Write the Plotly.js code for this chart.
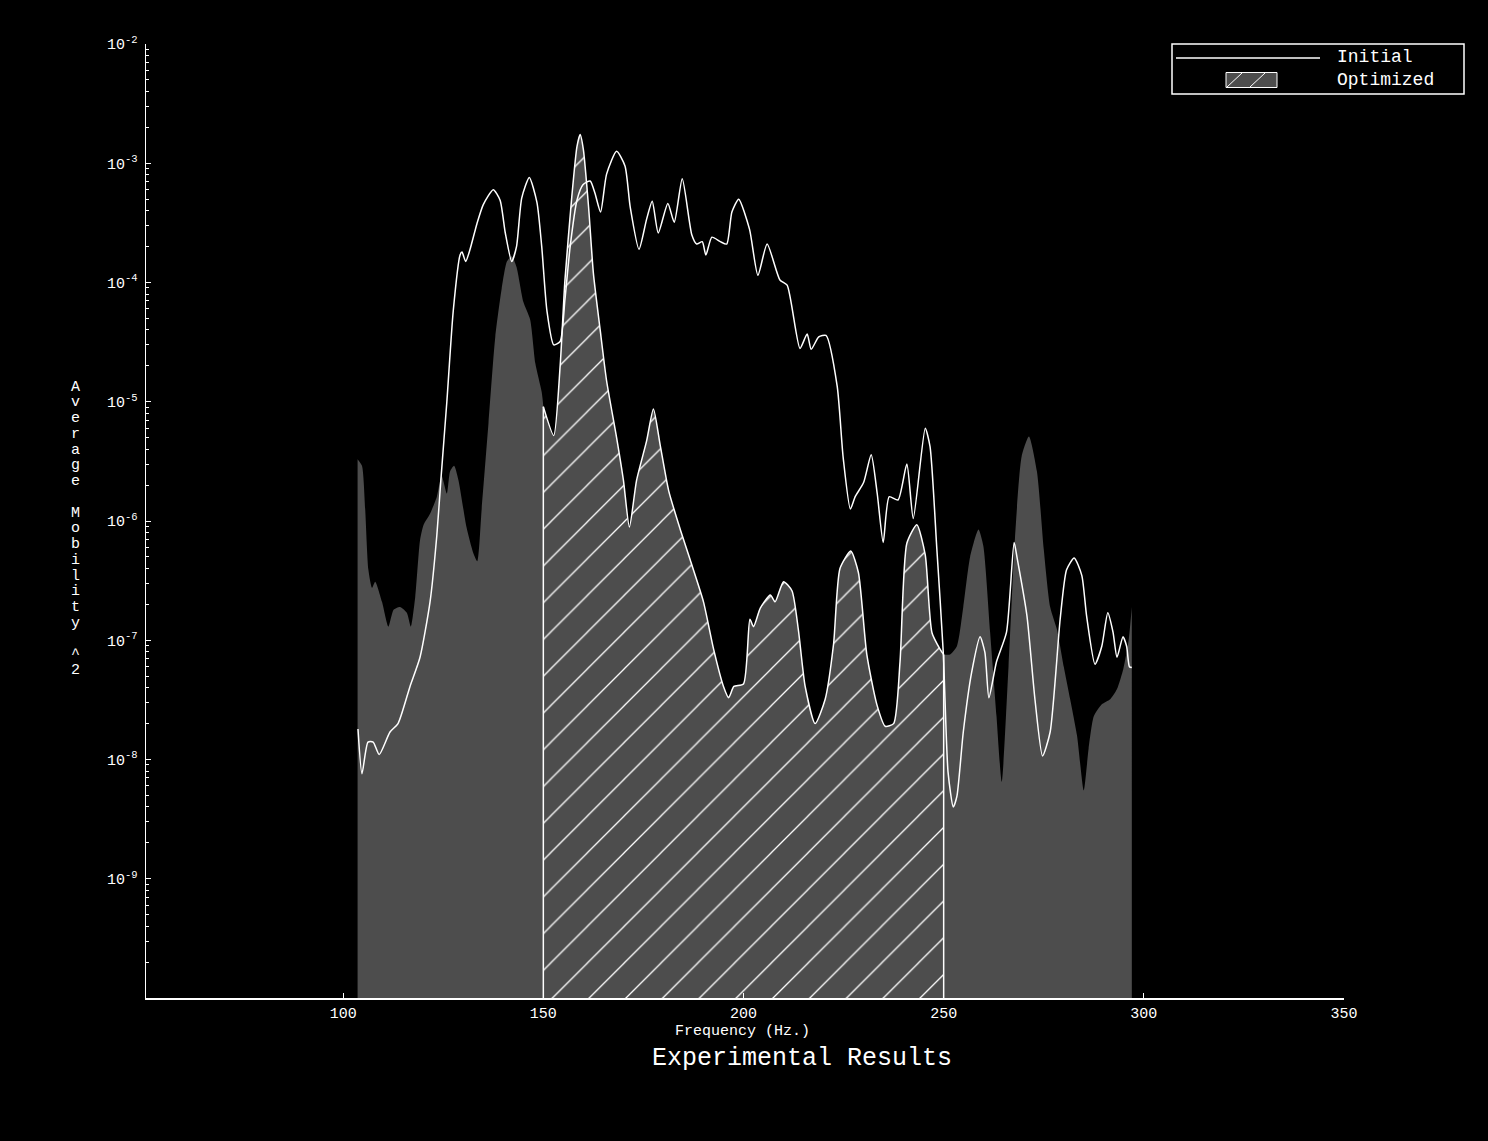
<!DOCTYPE html>
<html><head><meta charset="utf-8">
<script src="https://cdn.plot.ly/plotly-3.0.1.min.js"></script>
<style>html,body{margin:0;padding:0;background:#000;}#chart{width:1488px;height:1141px;}</style>
</head><body><div id="chart"></div>
<script>
// ---- data ----
const initialFreq = [103.7,104.7,106.2,107.5,109.0,111.7,113.7,116.7,119.2,121.7,123.4,124.4,125.9,127.5,129.2,129.7,130.6,131.7,133.4,135.0,137.5,139.2,140.5,142.1,143.3,144.6,146.5,148.4,149.6,150.9,152.6,154.2,155.4,156.7,158.4,159.9,161.7,162.9,164.3,165.8,168.3,170.4,171.7,173.9,175.8,177.2,178.7,181.1,182.7,184.7,187.1,188.3,189.7,190.6,192.1,194.2,195.8,197.1,198.8,201.5,203.6,205.9,209.1,210.9,214.1,215.9,216.9,218.8,220.6,223.4,224.9,226.7,227.9,230.0,231.9,233.4,234.9,236.4,238.6,240.8,242.4,245.4,246.6,248.3,249.9,251.1,252.4,253.3,254.9,257.0,259.1,260.3,261.3,263.2,265.7,267.6,268.3,270.8,272.8,274.7,276.6,279.1,280.7,282.6,284.5,285.7,287.8,289.5,291.0,292.3,293.3,294.8,295.7,296.4,297.0];
const initialMobility = [1.8e-8,7.6e-9,1.4e-8,1.4e-8,1.1e-8,1.7e-8,2.0e-8,4.1e-8,7.2e-8,2.1e-7,7.6e-7,2.2e-6,1.0e-5,5.8e-5,1.7e-4,1.8e-4,1.5e-4,1.9e-4,3.1e-4,4.5e-4,6.0e-4,4.9e-4,2.6e-4,1.5e-4,2.0e-4,5.1e-4,7.6e-4,4.7e-4,2.0e-4,5.8e-5,3.0e-5,3.2e-5,7.2e-5,2.0e-4,4.9e-4,6.6e-4,7.1e-4,5.6e-4,3.9e-4,8.1e-4,1.26e-3,9.5e-4,4.3e-4,1.9e-4,3.4e-4,4.8e-4,2.6e-4,4.6e-4,3.2e-4,7.4e-4,2.5e-4,2.1e-4,2.2e-4,1.7e-4,2.4e-4,2.2e-4,2.1e-4,3.9e-4,5.0e-4,2.8e-4,1.15e-4,2.1e-4,1.05e-4,9.5e-5,2.8e-5,3.7e-5,2.75e-5,3.5e-5,3.6e-5,1.35e-5,3.4e-6,1.26e-6,1.6e-6,2.1e-6,3.6e-6,1.7e-6,6.6e-7,1.6e-6,1.5e-6,3.0e-6,1.05e-6,6.0e-6,4.2e-6,5.8e-7,7.9e-8,7.8e-9,4.0e-9,4.9e-9,1.7e-8,5.4e-8,1.07e-7,7.9e-8,3.3e-8,6.6e-8,1.17e-7,6.6e-7,5.0e-7,1.6e-7,3.2e-8,1.07e-8,1.7e-8,1.5e-7,3.9e-7,4.9e-7,3.5e-7,1.6e-7,6.3e-8,8.9e-8,1.7e-7,1.17e-7,7.2e-8,1.07e-7,8.9e-8,6.0e-8,5.9e-8];

const optimizedFreq = [103.6,104.7,105.5,106.3,107.2,108.0,109.7,111.3,112.6,114.2,115.9,116.9,118.0,119.2,120.1,121.7,123.4,124.6,125.9,126.7,127.7,128.8,130.8,132.5,133.5,134.6,136.3,138.0,139.6,140.9,142.1,143.3,145.0,146.7,148.0,149.6,150.0,152.6,154.2,155.4,157.1,158.4,159.2,160.0,161.3,162.5,164.2,165.8,168.3,170.0,171.5,173.3,175.8,177.5,179.2,181.3,184.2,186.7,190.0,192.5,195.0,196.3,197.6,200.0,201.6,202.5,204.2,206.7,207.9,210.0,212.1,213.7,215.4,217.9,220.4,222.5,224.1,226.8,228.7,230.8,233.3,235.4,237.5,239.1,240.8,243.3,245.4,247.1,249.6,250.0,251.6,253.3,254.9,256.6,258.7,259.9,261.6,263.2,264.5,266.2,267.8,269.5,271.3,273.3,275.0,276.6,278.3,280.0,281.6,283.3,285.0,286.2,287.5,289.5,291.6,293.3,294.9,296.2,297.0];
const optimizedMobility = [3.3e-6,2.9e-6,1.26e-6,3.9e-7,2.75e-7,3.1e-7,2.1e-7,1.3e-7,1.8e-7,1.9e-7,1.7e-7,1.3e-7,2.3e-7,6.9e-7,9.3e-7,1.15e-6,1.6e-6,2.4e-6,1.7e-6,2.6e-6,2.9e-6,2.2e-6,8.9e-7,5.4e-7,4.6e-7,1.26e-6,6.6e-6,3.5e-5,8.9e-5,1.5e-4,1.66e-4,1.35e-4,6.9e-5,4.9e-5,2.1e-5,1.2e-5,9.1e-6,5.2e-6,2.0e-5,1.05e-4,5.2e-4,1.38e-3,1.74e-3,1.3e-3,4.3e-4,1.2e-4,4.0e-5,1.5e-5,5.0e-6,2.2e-6,8.9e-7,2.2e-6,4.7e-6,8.7e-6,4.3e-6,1.8e-6,8.5e-7,4.7e-7,2.1e-7,8.5e-8,4.1e-8,3.3e-8,4.1e-8,4.3e-8,1.5e-7,1.3e-7,1.86e-7,2.4e-7,2.1e-7,3.1e-7,2.6e-7,1.23e-7,4.1e-8,2.0e-8,3.2e-8,9.3e-8,4.0e-7,5.6e-7,3.7e-7,7.6e-8,2.9e-8,1.9e-8,2.0e-8,6.6e-8,6.5e-7,9.3e-7,5.2e-7,1.15e-7,7.9e-8,7.6e-8,7.6e-8,8.9e-8,1.9e-7,5.0e-7,8.5e-7,6.2e-7,1.17e-7,2.3e-8,6.5e-9,6.0e-8,7.1e-7,3.5e-6,5.1e-6,2.6e-6,5.8e-7,1.9e-7,1.23e-7,6.0e-8,3.2e-8,1.6e-8,5.5e-9,1.23e-8,2.3e-8,2.9e-8,3.2e-8,3.9e-8,5.8e-8,1.0e-7,1.9e-7];

const hatchStart = 150;
const hatchEnd = 250;
const floorValue = 1e-10;

const xTickValues = [100, 150, 200, 250, 300, 350];
const yTickValues = [1e-9, 1e-8, 1e-7, 1e-6, 1e-5, 1e-4, 1e-3, 1e-2];
const yTickLabels = ['10<sup>-9</sup>','10<sup>-8</sup>','10<sup>-7</sup>','10<sup>-6</sup>','10<sup>-5</sup>','10<sup>-4</sup>','10<sup>-3</sup>','10<sup>-2</sup>'];

const legendNames = ['Initial', 'Optimized'];
const xTitle = 'Frequency (Hz.)';
const yTitle = 'Average Mobility ^2';
const chartTitle = 'Experimental Results';

// ---- build ----
const GRAY = '#4d4d4d';
const FONT = 'Liberation Mono, Courier New, monospace';
const SMOOTH = 0.6;

function segment(lo, hi) {
  const xs = [], ys = [];
  optimizedFreq.forEach((f, i) => { if (f >= lo && f <= hi) { xs.push(f); ys.push(optimizedMobility[i]); } });
  return { x: xs, y: ys };
}

function filledSegment(seg, hatched) {
  const out = [];
  // baseline along the bottom of the plot
  out.push({ x: [seg.x[0], seg.x[seg.x.length - 1]], y: [floorValue, floorValue], type: 'scatter', mode: 'lines',
             line: { width: 0, color: GRAY }, hoverinfo: 'skip', showlegend: false });
  const curve = { x: seg.x, y: seg.y, type: 'scatter', mode: 'lines', fill: 'tonexty', fillcolor: GRAY,
                  line: { width: hatched ? 1.5 : 0, color: hatched ? '#ffffff' : GRAY, shape: 'spline', smoothing: SMOOTH },
                  hoverinfo: 'skip', showlegend: false };
  if (hatched) curve.fillpattern = { shape: '/', fgcolor: '#ffffff', bgcolor: GRAY, size: 26, solidity: 0.05, fillmode: 'replace' };
  out.push(curve);
  if (hatched) {
    const n = seg.x.length - 1;
    out.push({ x: [seg.x[0], seg.x[0], null, seg.x[n], seg.x[n]], y: [floorValue, seg.y[0], null, floorValue, seg.y[n]],
               type: 'scatter', mode: 'lines', line: { width: 1.5, color: '#ffffff' }, hoverinfo: 'skip', showlegend: false });
  }
  return out;
}

const traces = [
  ...filledSegment(segment(-Infinity, hatchStart), false),
  ...filledSegment(segment(hatchEnd, Infinity), false),
  ...filledSegment(segment(hatchStart, hatchEnd), true),
  { x: initialFreq, y: initialMobility, type: 'scatter', mode: 'lines', line: { width: 1.5, color: '#ffffff', shape: 'spline', smoothing: SMOOTH }, name: legendNames[0] }
];

// pixel -> paper helpers for layout decorations
const L = 146, R = 1344, T = 44, B = 998;
const px = x => (x - L) / (R - L);
const py = y => (B - y) / (B - T);

const minorTicks = [];
for (let e = -10; e < -2; e++) for (let m = 2; m <= 9; m++) minorTicks.push(m * Math.pow(10, e));

const annotations = [
  { text: legendNames[0], xref: 'paper', yref: 'paper', x: px(1335), y: py(57), xanchor: 'left', yanchor: 'middle', showarrow: false, font: { family: FONT, size: 18, color: '#fff' } },
  { text: legendNames[1], xref: 'paper', yref: 'paper', x: px(1335), y: py(80), xanchor: 'left', yanchor: 'middle', showarrow: false, font: { family: FONT, size: 18, color: '#fff' } },
  { text: xTitle, xref: 'paper', yref: 'paper', x: px(742), y: py(1031), xanchor: 'center', yanchor: 'middle', showarrow: false, font: { family: FONT, size: 15, color: '#fff' } },
  { text: chartTitle, xref: 'paper', yref: 'paper', x: px(802), y: py(1058), xanchor: 'center', yanchor: 'middle', showarrow: false, font: { family: FONT, size: 25, color: '#fff' } }
];
// vertical, letter-stacked y-axis title
yTitle.split('').forEach((c, i) => {
  if (c === ' ') return;
  annotations.push({ text: c, xref: 'paper', yref: 'paper', x: px(75), y: py(387 + i * 15.75), xanchor: 'center', yanchor: 'middle', showarrow: false, font: { family: FONT, size: 15, color: '#fff' } });
});

const layout = {
  width: 1488, height: 1141,
  paper_bgcolor: '#000', plot_bgcolor: '#000',
  margin: { l: L, r: 1488 - R, t: T, b: 1141 - B },
  showlegend: false,
  font: { family: FONT, color: '#ffffff' },
  xaxis: {
    range: [50.75, 350], tickmode: 'array', tickvals: xTickValues,
    ticks: 'inside', ticklen: 5, tickwidth: 1, tickcolor: '#fff',
    showline: true, linecolor: '#fff', linewidth: 1.5, showgrid: false, zeroline: false,
    tickfont: { family: FONT, size: 15, color: '#fff' }
  },
  yaxis: {
    type: 'log', range: [-10, -2], tickmode: 'array', tickvals: yTickValues, ticktext: yTickLabels,
    ticks: 'inside', ticklen: 5, tickwidth: 1, tickcolor: '#fff', ticklabelstandoff: 4,
    showline: true, linecolor: '#fff', linewidth: 1.5, showgrid: false, zeroline: false,
    tickfont: { family: FONT, size: 15, color: '#fff' },
    minor: { tickmode: 'array', tickvals: minorTicks, ticks: 'inside', ticklen: 2.5, tickwidth: 1, tickcolor: '#fff', showgrid: false }
  },
  shapes: [
    { type: 'rect', xref: 'paper', yref: 'paper', x0: px(1172), x1: px(1464), y0: py(44), y1: py(94), line: { color: '#fff', width: 1.5 }, fillcolor: 'rgba(0,0,0,0)' },
    { type: 'line', xref: 'paper', yref: 'paper', x0: px(1176), x1: px(1320), y0: py(58), y1: py(58), line: { color: '#fff', width: 1.5 } },
    { type: 'rect', xref: 'paper', yref: 'paper', x0: px(1226), x1: px(1277), y0: py(72.5), y1: py(87.5), line: { color: '#fff', width: 1 }, fillcolor: GRAY },
    { type: 'line', xref: 'paper', yref: 'paper', x0: px(1227), x1: px(1242), y0: py(87), y1: py(73), line: { color: '#fff', width: 1 } },
    { type: 'line', xref: 'paper', yref: 'paper', x0: px(1250), x1: px(1265), y0: py(87), y1: py(73), line: { color: '#fff', width: 1 } }
  ],
  annotations: annotations
};

Plotly.newPlot('chart', traces, layout, { displayModeBar: false, staticPlot: true });
</script>
</body></html>
